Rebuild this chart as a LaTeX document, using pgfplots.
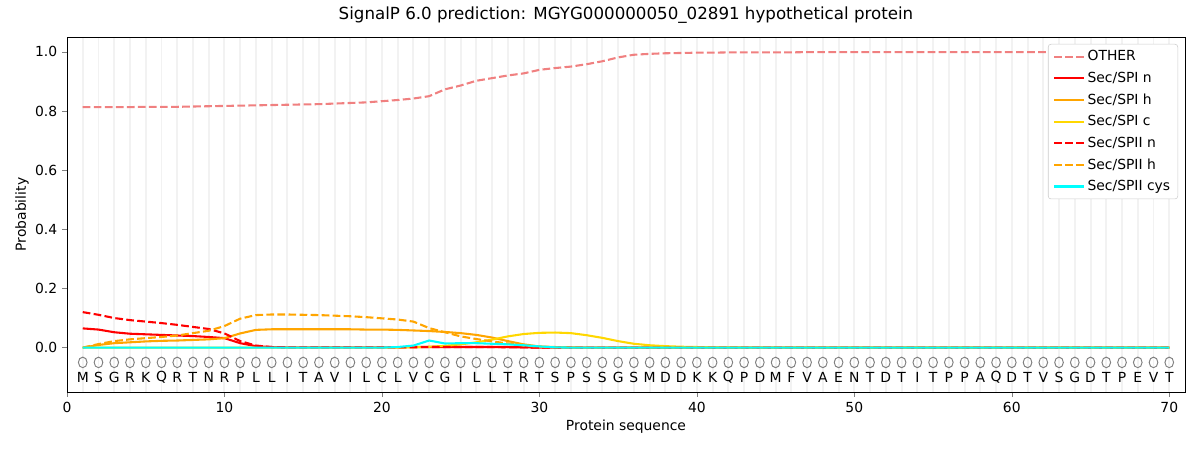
\documentclass[border=0pt]{standalone}
\usepackage{fontspec}
\setmainfont{DejaVu Sans}
\usepackage{pgfplots}
\usepackage{pgfplotstable}
\pgfplotsset{compat=1.18}
\definecolor{lightcoral}{HTML}{F08080}
\definecolor{gold}{HTML}{FFD700}
\definecolor{mplorange}{HTML}{FFA500}
\definecolor{mplcyan}{HTML}{00FFFF}
\definecolor{mplred}{HTML}{FF0000}

\pgfplotstableread{
x other spin spih spic spiin spiih cys
1 0.813 0.065 0.000 0.000 0.120 0.000 0.000
2 0.813 0.061 0.009 0.000 0.111 0.012 0.000
3 0.813 0.052 0.015 0.000 0.100 0.022 0.000
4 0.813 0.047 0.018 0.000 0.093 0.028 0.000
5 0.814 0.045 0.021 0.000 0.088 0.032 0.000
6 0.814 0.043 0.023 0.000 0.083 0.036 0.000
7 0.814 0.041 0.024 0.000 0.077 0.041 0.000
8 0.815 0.039 0.026 0.000 0.070 0.049 0.000
9 0.816 0.036 0.028 0.000 0.063 0.057 0.000
10 0.817 0.032 0.032 0.000 0.048 0.073 0.000
11 0.818 0.015 0.048 0.000 0.022 0.098 0.000
12 0.819 0.005 0.060 0.000 0.007 0.110 0.000
13 0.820 0.002 0.062 0.000 0.002 0.112 0.000
14 0.821 0.001 0.062 0.000 0.001 0.112 0.000
15 0.822 0.001 0.062 0.000 0.001 0.111 0.000
16 0.823 0.001 0.062 0.000 0.001 0.110 0.000
17 0.825 0.001 0.062 0.000 0.001 0.108 0.000
18 0.827 0.001 0.062 0.000 0.001 0.106 0.000
19 0.829 0.001 0.061 0.000 0.001 0.103 0.000
20 0.833 0.001 0.061 0.000 0.001 0.099 0.000
21 0.837 0.001 0.060 0.000 0.001 0.095 0.002
22 0.842 0.002 0.058 0.001 0.001 0.088 0.007
23 0.850 0.002 0.056 0.003 0.002 0.066 0.024
24 0.873 0.002 0.053 0.006 0.002 0.052 0.014
25 0.886 0.002 0.049 0.011 0.002 0.038 0.015
26 0.902 0.002 0.043 0.018 0.002 0.029 0.015
27 0.911 0.002 0.034 0.027 0.002 0.021 0.013
28 0.920 0.002 0.022 0.038 0.001 0.014 0.011
29 0.927 0.001 0.011 0.046 0.001 0.007 0.008
30 0.939 0.000 0.004 0.050 0.000 0.003 0.004
31 0.945 0.000 0.002 0.051 0.000 0.001 0.001
32 0.950 0.000 0.001 0.049 0.000 0.000 0.000
33 0.958 0.000 0.000 0.042 0.000 0.000 0.000
34 0.968 0.000 0.000 0.033 0.000 0.000 0.000
35 0.981 0.000 0.000 0.022 0.000 0.000 0.000
36 0.990 0.000 0.000 0.013 0.000 0.000 0.000
37 0.993 0.000 0.000 0.008 0.000 0.000 0.000
38 0.995 0.000 0.000 0.005 0.000 0.000 0.000
39 0.996 0.000 0.000 0.003 0.000 0.000 0.000
40 0.997 0.000 0.000 0.002 0.000 0.000 0.000
41 0.997 0.000 0.000 0.001 0.000 0.000 0.000
42 0.998 0.000 0.000 0.001 0.000 0.000 0.000
43 0.998 0.000 0.000 0.000 0.000 0.000 0.000
44 0.998 0.000 0.000 0.000 0.000 0.000 0.000
45 0.998 0.000 0.000 0.000 0.000 0.000 0.000
46 0.998 0.000 0.000 0.000 0.000 0.000 0.000
47 0.999 0.000 0.000 0.000 0.000 0.000 0.000
48 0.999 0.000 0.000 0.000 0.000 0.000 0.000
49 0.999 0.000 0.000 0.000 0.000 0.000 0.000
50 0.999 0.000 0.000 0.000 0.000 0.000 0.000
51 0.999 0.000 0.000 0.000 0.000 0.000 0.000
52 0.999 0.000 0.000 0.000 0.000 0.000 0.000
53 0.999 0.000 0.000 0.000 0.000 0.000 0.000
54 0.999 0.000 0.000 0.000 0.000 0.000 0.000
55 0.999 0.000 0.000 0.000 0.000 0.000 0.000
56 0.999 0.000 0.000 0.000 0.000 0.000 0.000
57 0.999 0.000 0.000 0.000 0.000 0.000 0.000
58 0.999 0.000 0.000 0.000 0.000 0.000 0.000
59 0.999 0.000 0.000 0.000 0.000 0.000 0.000
60 0.999 0.000 0.000 0.000 0.000 0.000 0.000
61 0.999 0.000 0.000 0.000 0.000 0.000 0.000
62 0.999 0.000 0.000 0.000 0.000 0.000 0.000
63 0.999 0.000 0.000 0.000 0.000 0.000 0.000
64 0.999 0.000 0.000 0.000 0.000 0.000 0.000
65 0.999 0.000 0.000 0.000 0.000 0.000 0.000
66 0.999 0.000 0.000 0.000 0.000 0.000 0.000
67 0.999 0.000 0.000 0.000 0.000 0.000 0.000
68 0.999 0.000 0.000 0.000 0.000 0.000 0.000
69 0.999 0.000 0.000 0.000 0.000 0.000 0.000
70 0.999 0.000 0.000 0.000 0.000 0.000 0.000
}\data

\begin{document}
\begin{tikzpicture}
\path[use as bounding box] (-48.24pt,-41.76pt) rectangle (815.76pt,282.24pt);
\begin{axis}[
  scale only axis,
  width=804.96pt, height=255.6pt,
  xmin=0, xmax=71, ymin=-0.15, ymax=1.05,
  xtick={0,10,...,70},
  ytick={0,0.2,...,1.0},
  yticklabel style={/pgf/number format/fixed, /pgf/number format/fixed zerofill, /pgf/number format/precision=1},
  /pgf/number format/assume math mode=true,
  tick label style={font=\fontsize{10}{12}\selectfont},
  tick align=outside, tick pos=left,
  major tick length=3.5pt,
  minor xtick={1,...,70},
  minor tick length=0pt,
  xminorgrids,
  minor grid style={black!5, line width=1.4pt},
  clip=false,
  title={SignalP 6.0 prediction: MGYG000000050\_02891 hypothetical protein},
  title style={at={(axis description cs:0.5,1.0394)}, anchor=center, font=\fontsize{12}{14}\selectfont},
  xlabel={Protein sequence},
  xlabel style={at={(axis description cs:0.5,-0.0986)}, anchor=center, font=\fontsize{10}{12}\selectfont},
  ylabel={Probability},
  ylabel style={at={(axis description cs:-0.0403,0.5)}, anchor=center, font=\fontsize{10}{12}\selectfont},
  legend style={at={(axis description cs:1,1)}, anchor=north east, xshift=-5pt, yshift=-5pt,
    draw=black!20, rounded corners=2pt, font=\fontsize{10}{12}\selectfont,
    row sep=2.6pt, inner xsep=3.5pt, inner ysep=2.5pt},
  legend cell align=left,
  legend image code/.code={\draw[mark repeat=2,mark phase=2] plot coordinates {(0cm,0cm) (0.75cm,0cm)};},
  every axis plot/.append style={line width=1.5pt},
]
\addplot[lightcoral, dash pattern=on 5.55pt off 2.4pt] table[x=x,y=other] {\data};
\addlegendentry{OTHER}
\addplot[mplred] table[x=x,y=spin] {\data};
\addlegendentry{Sec/SPI n}
\addplot[mplorange] table[x=x,y=spih] {\data};
\addlegendentry{Sec/SPI h}
\addplot[gold] table[x=x,y=spic] {\data};
\addlegendentry{Sec/SPI c}
\addplot[mplred, dash pattern=on 5.55pt off 2.4pt] table[x=x,y=spiin] {\data};
\addlegendentry{Sec/SPII n}
\addplot[mplorange, dash pattern=on 5.55pt off 2.4pt] table[x=x,y=spiih] {\data};
\addlegendentry{Sec/SPII h}
\addplot[mplcyan] table[x=x,y=cys] {\data};
\addlegendentry{Sec/SPII cys}
\addplot[only marks, mark=o, mark size=3.8pt, draw=black!50, mark options={xscale=0.82, line width=0.7pt}, forget plot]
  table[x=x, y expr=-0.05] {\data};
\addplot[draw=none, mark=none, forget plot, nodes near coords, point meta=explicit symbolic,
  nodes near coords align={center},
  every node near coord/.append style={font=\fontsize{10}{12}\selectfont, inner sep=0pt, text=black}]
  coordinates {
(1,-0.1) [M] (2,-0.1) [S] (3,-0.1) [G] (4,-0.1) [R] (5,-0.1) [K] (6,-0.1) [Q] (7,-0.1) [R] (8,-0.1) [T] (9,-0.1) [N] (10,-0.1) [R]
(11,-0.1) [P] (12,-0.1) [L] (13,-0.1) [L] (14,-0.1) [I] (15,-0.1) [T] (16,-0.1) [A] (17,-0.1) [V] (18,-0.1) [I] (19,-0.1) [L] (20,-0.1) [C]
(21,-0.1) [L] (22,-0.1) [V] (23,-0.1) [C] (24,-0.1) [G] (25,-0.1) [I] (26,-0.1) [L] (27,-0.1) [L] (28,-0.1) [T] (29,-0.1) [R] (30,-0.1) [T]
(31,-0.1) [S] (32,-0.1) [P] (33,-0.1) [S] (34,-0.1) [S] (35,-0.1) [G] (36,-0.1) [S] (37,-0.1) [M] (38,-0.1) [D] (39,-0.1) [D] (40,-0.1) [K]
(41,-0.1) [K] (42,-0.1) [Q] (43,-0.1) [P] (44,-0.1) [D] (45,-0.1) [M] (46,-0.1) [F] (47,-0.1) [V] (48,-0.1) [A] (49,-0.1) [E] (50,-0.1) [N]
(51,-0.1) [T] (52,-0.1) [D] (53,-0.1) [T] (54,-0.1) [I] (55,-0.1) [T] (56,-0.1) [P] (57,-0.1) [P] (58,-0.1) [A] (59,-0.1) [Q] (60,-0.1) [D]
(61,-0.1) [T] (62,-0.1) [V] (63,-0.1) [S] (64,-0.1) [G] (65,-0.1) [D] (66,-0.1) [T] (67,-0.1) [P] (68,-0.1) [E] (69,-0.1) [V] (70,-0.1) [T]
  };
\end{axis}
\end{tikzpicture}
\end{document}
